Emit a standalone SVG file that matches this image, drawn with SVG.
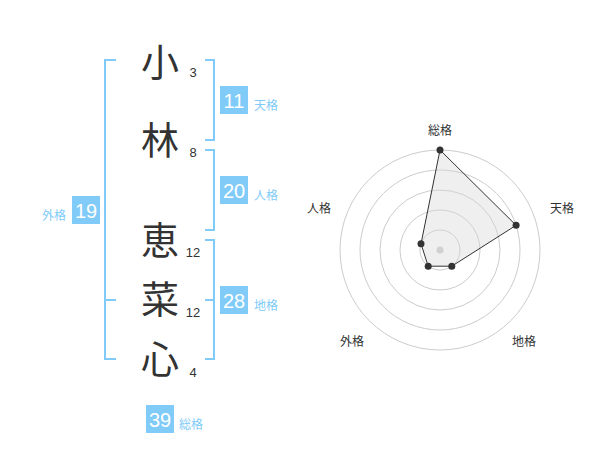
<svg xmlns="http://www.w3.org/2000/svg" width="600" height="470" viewBox="0 0 600 470">
<style>
.bg{fill:#ffffff}
.br{fill:none;stroke:#80cbf8;stroke-width:2}
.ch{font-family:"Noto Sans CJK JP","Noto Sans CJK SC",sans-serif;font-size:38px;fill:#333333;text-anchor:middle}
.num{font-family:"Liberation Sans",Arial,sans-serif;font-size:13px;fill:#333333;text-anchor:middle}
.box{fill:#80cbf8}
.bt{font-family:"Liberation Sans",Arial,sans-serif;font-size:20px;fill:#ffffff;text-anchor:middle}
.lb{font-family:"Noto Sans CJK JP","Noto Sans CJK SC",sans-serif;font-size:12px;fill:#80cbf8}
.ring{fill:none;stroke:#cccccc;stroke-width:1}
.axl{font-family:"Noto Sans CJK JP","Noto Sans CJK SC",sans-serif;font-size:12px;fill:#333333;text-anchor:middle}
.dot{fill:#333333}
</style>
<rect class="bg" x="0" y="0" width="600" height="470"/>
<g id="connectors">
  <path id="bracket-gaikaku" class="br" d="M116,60 H105 V359 H116 M105,300 H116"/>
  <path id="bracket-tenkaku" class="br" d="M205,60 H214 V140 H205"/>
  <path id="bracket-jinkaku" class="br" d="M205,150 H214 V230 H205"/>
  <path id="bracket-chikaku" class="br" d="M205,240 H214 V359 H205 M205,300 H214"/>
</g>
<g id="char-1"><text class="ch" x="160" y="76">小</text><text class="num" x="193" y="77">3</text></g>
<g id="char-2"><text class="ch" x="160" y="154">林</text><text class="num" x="193" y="157">8</text></g>
<g id="char-3"><text class="ch" x="160" y="254">恵</text><text class="num" x="193" y="257">12</text></g>
<g id="char-4"><text class="ch" x="160" y="313">菜</text><text class="num" x="193" y="317">12</text></g>
<g id="char-5"><text class="ch" x="160" y="373">心</text><text class="num" x="193" y="377">4</text></g>
<g id="tenkaku"><rect class="box" x="220" y="86" width="28" height="28"/><text class="bt" x="234" y="107.5">11</text><text class="lb" x="254" y="109.5">天格</text></g>
<g id="jinkaku"><rect class="box" x="220" y="176" width="28" height="28"/><text class="bt" x="234" y="197.5">20</text><text class="lb" x="254" y="199.5">人格</text></g>
<g id="chikaku"><rect class="box" x="220" y="286" width="28" height="28"/><text class="bt" x="234" y="307.5">28</text><text class="lb" x="254" y="309.5">地格</text></g>
<g id="gaikaku"><rect class="box" x="72" y="196" width="28" height="28"/><text class="bt" x="86" y="217.5">19</text><text class="lb" x="42" y="219.5">外格</text></g>
<g id="soukaku"><rect class="box" x="146" y="405" width="28" height="28"/><text class="bt" x="160" y="426.5">39</text><text class="lb" x="179" y="428.5">総格</text></g>
<g id="radar">
  <circle class="ring" cx="440" cy="250" r="20"/>
  <circle class="ring" cx="440" cy="250" r="40"/>
  <circle class="ring" cx="440" cy="250" r="60"/>
  <circle class="ring" cx="440" cy="250" r="80"/>
  <circle class="ring" cx="440" cy="250" r="100"/>
  <circle cx="440" cy="250" r="3.5" fill="#cccccc"/>
  <polygon points="440,150 516.1,225.3 451.8,266.2 428.2,266.2 421,243.8" fill="#d8d8d8" fill-opacity="0.4" stroke="#333333" stroke-width="1"/>
  <circle class="dot" cx="440" cy="150" r="3.5"/>
  <circle class="dot" cx="516.1" cy="225.3" r="3.5"/>
  <circle class="dot" cx="451.8" cy="266.2" r="3.5"/>
  <circle class="dot" cx="428.2" cy="266.2" r="3.5"/>
  <circle class="dot" cx="421" cy="243.8" r="3.5"/>
  <text class="axl" x="440" y="135">総格</text>
  <text class="axl" x="562" y="213">天格</text>
  <text class="axl" x="319" y="213">人格</text>
  <text class="axl" x="352" y="346">外格</text>
  <text class="axl" x="524" y="346">地格</text>
</g>
</svg>
